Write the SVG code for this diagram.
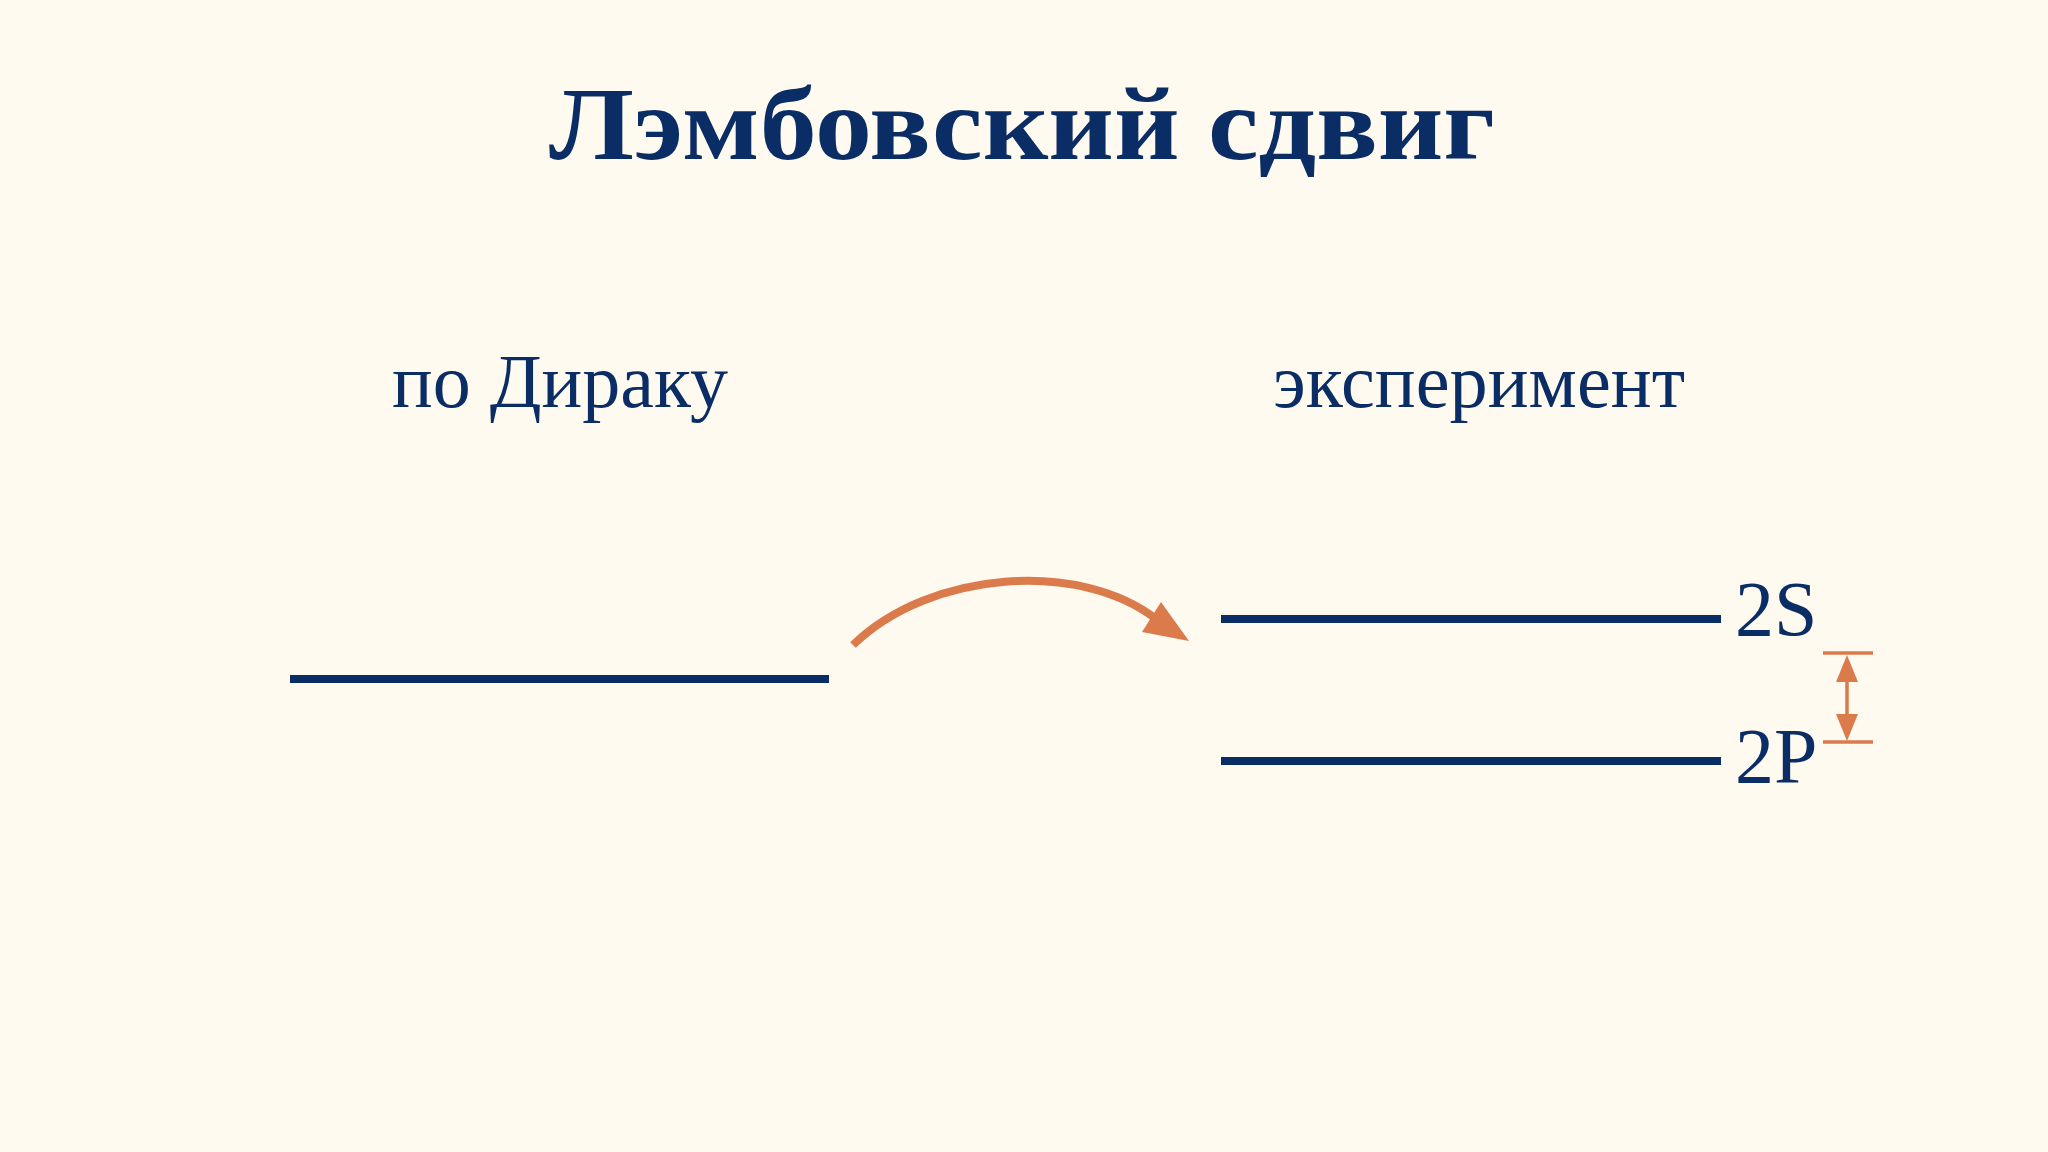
<svg xmlns="http://www.w3.org/2000/svg" width="2048" height="1152" viewBox="0 0 2048 1152">
<style>
.t{font-family:"Liberation Serif","Times New Roman",serif;fill:#0B2D66}
.lvl{stroke:#0B2D66;stroke-width:8;fill:none}
.or{stroke:#DB7A4B;fill:none}
.orf{fill:#DB7A4B}
</style>
<rect width="2048" height="1152" fill="#FEFAF0"/>
<g id="title"><text class="t" x="1022" y="159" font-size="104" font-weight="bold" text-anchor="middle" textLength="946" lengthAdjust="spacingAndGlyphs">Лэмбовский сдвиг</text></g>
<g id="dirac-label"><text class="t" x="560" y="407" font-size="77" text-anchor="middle" textLength="336" lengthAdjust="spacingAndGlyphs">по Дираку</text></g>
<g id="exp-label"><text class="t" x="1479" y="407" font-size="77" text-anchor="middle" textLength="412" lengthAdjust="spacingAndGlyphs">эксперимент</text></g>
<g id="dirac-level"><line class="lvl" x1="290" y1="679" x2="829" y2="679"/></g>
<g id="level-2S"><line class="lvl" x1="1221" y1="619" x2="1721" y2="619"/><text class="t" x="1735" y="635" font-size="78">2S</text></g>
<g id="level-2P"><line class="lvl" x1="1221" y1="761" x2="1721" y2="761"/><text class="t" x="1735" y="782" font-size="78">2P</text></g>
<g id="connectors">
<path class="or" stroke-width="8" d="M853,645 C930,570 1080,560 1156,619"/>
<polygon class="orf" points="1189,641 1161,602 1142,632"/>
<line class="or" stroke-width="3.5" x1="1823" y1="653" x2="1873" y2="653"/>
<line class="or" stroke-width="3.5" x1="1823" y1="742" x2="1873" y2="742"/>
<line class="or" stroke-width="3.5" x1="1847" y1="670" x2="1847" y2="726"/>
<polygon class="orf" points="1847,655 1836,682 1858,682"/>
<polygon class="orf" points="1847,741 1836,714 1858,714"/>
</g>
</svg>
